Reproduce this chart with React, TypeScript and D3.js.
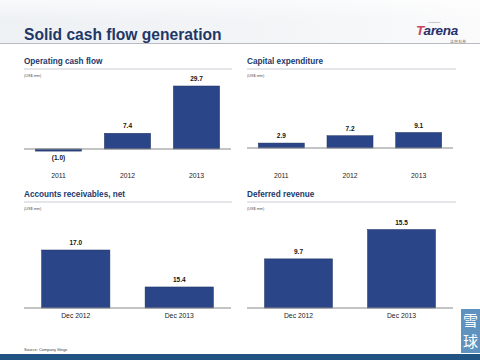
import React from "react";
import * as d3 from "d3";

const ocfCategories = ["2011", "2012", "2013"];
const ocfValues = [-1.0, 7.4, 29.7];
const ocfLabels = ["(1.0)", "7.4", "29.7"];

const capexCategories = ["2011", "2012", "2013"];
const capexValues = [2.9, 7.2, 9.1];
const capexLabels = ["2.9", "7.2", "9.1"];

const arCategories = ["Dec 2012", "Dec 2013"];
const arValues = [17.0, 15.4];
const arLabels = ["17.0", "15.4"];

const drCategories = ["Dec 2012", "Dec 2013"];
const drValues = [9.7, 15.5];
const drLabels = ["9.7", "15.5"];

const FONT = "'Liberation Sans', Arial, sans-serif";
const BAR = "#2b4688";
const NAVY = "#23386a";

type PanelProps = {
  title: string;
  x0: number;
  x1: number;
  titleY: number;
  catY: number;
  cats: string[];
  vals: number[];
  labels: string[];
  domain: [number, number];
  range: [number, number];
  padding: number;
  lineEnd: number;
};

function Panel(p: PanelProps) {
  const xs = d3.scaleBand<string>().domain(p.cats).range([p.x0, p.x1]).paddingInner(p.padding).paddingOuter(p.padding / 2);
  const ys = d3.scaleLinear().domain(p.domain).range(p.range);
  const base = Math.max(p.domain[0], 0);
  const y0 = ys(base);
  return (
    <g>
      <text x={p.x0} y={p.titleY} fontSize={8.2} fontWeight="bold" fill={NAVY} fontFamily={FONT}>{p.title}</text>
      <line x1={p.x0} x2={p.lineEnd} y1={p.titleY + 5} y2={p.titleY + 5} stroke="#c8ccd4" strokeWidth={1} />
      <text x={p.x0} y={p.titleY + 13} fontSize={3.8} fill="#555" fontFamily={FONT}>(US$ mm)</text>
      {p.cats.map((c, i) => {
        const v = p.vals[i];
        const yv = ys(v);
        const top = Math.min(yv, y0);
        const h = Math.abs(yv - y0);
        const cx = (xs(c) as number) + xs.bandwidth() / 2;
        const labelY = v >= 0 ? top - 5 : top + h + 9;
        return (
          <g key={c}>
            <rect x={xs(c)} y={top} width={xs.bandwidth()} height={h} fill={BAR} stroke="#1c2f5e" strokeWidth={0.5} />
            <text x={cx} y={labelY} fontSize={6.5} fontWeight="bold" textAnchor="middle" fill="#111" fontFamily={FONT}>{p.labels[i]}</text>
            <text x={cx} y={p.catY} fontSize={6.8} textAnchor="middle" fill="#222" fontFamily={FONT}>{c}</text>
          </g>
        );
      })}
      <line x1={p.x0} x2={p.x1} y1={y0} y2={y0} stroke="#8a8a8a" strokeWidth={1.2} />
    </g>
  );
}

export default function App() {
  return (
    <svg width={480} height={360} style={{ position: "absolute", left: 0, top: 0 }}>
      <defs>
        <linearGradient id="hdr" x1="0" x2="1" y1="0" y2="0">
          <stop offset="0" stopColor="#eef1f4" />
          <stop offset="0.6" stopColor="#f3f5f7" />
          <stop offset="1" stopColor="#fbfbfc" />
        </linearGradient>
        <linearGradient id="hdrv" x1="0" x2="0" y1="0" y2="1">
          <stop offset="0" stopColor="#ffffff" stopOpacity="0.6" />
          <stop offset="1" stopColor="#ffffff" stopOpacity="0" />
        </linearGradient>
      </defs>
      <rect x={0} y={0} width={480} height={360} fill="#ffffff" />
      <rect x={0} y={0} width={480} height={43} fill="url(#hdr)" />
      <rect x={0} y={0} width={480} height={20} fill="url(#hdrv)" />
      <line x1={0} x2={480} y1={43.5} y2={43.5} stroke="#b8bcc2" strokeWidth={1} />
      <text x={24} y={40} fontSize={15.6} fontWeight="bold" fill="#1f3766" fontFamily={FONT}>Solid cash flow generation</text>

      <text x={428} y={23} fontSize={2.5} fill="#777" fontFamily={FONT}>Technology</text>
      <text x={416} y={35} fontSize={13.5} fontWeight="bold" fill="#27306a" fontFamily={FONT} fontStyle="italic" letterSpacing={-0.3}>
        <tspan fill="#c8475e">T</tspan>arena
      </text>
      <text x={466} y={43} fontSize={3.4} textAnchor="end" fill="#555" fontFamily="'Noto Sans CJK SC', sans-serif">达 内 科 技</text>

      <Panel title="Operating cash flow" x0={24} x1={231} lineEnd={232} titleY={64} catY={178}
        cats={ocfCategories} vals={ocfValues} labels={ocfLabels}
        domain={[-1, 29.7]} range={[151.1, 86]} padding={0.33} />
      <Panel title="Capital expenditure" x0={247} x1={453} lineEnd={456} titleY={64} catY={178}
        cats={capexCategories} vals={capexValues} labels={capexLabels}
        domain={[0, 9.1]} range={[148, 132.5]} padding={0.33} />
      <Panel title="Accounts receivables, net" x0={24} x1={231} lineEnd={232} titleY={197} catY={318}
        cats={arCategories} vals={arValues} labels={arLabels}
        domain={[14.49, 17.0]} range={[308, 250]} padding={0.34} />
      <Panel title="Deferred revenue" x0={247} x1={453} lineEnd={456} titleY={197} catY={318}
        cats={drCategories} vals={drValues} labels={drLabels}
        domain={[0, 15.5]} range={[308, 229.5]} padding={0.34} />

      <text x={24} y={351} fontSize={4} fill="#444" fontFamily={FONT}>Source:  Company filings</text>
      <rect x={0} y={354} width={480} height={6} fill="#215383" />

      <rect x={461} y={309} width={19} height={44} fill="#4f86b8" opacity={0.9} />
      <text x={470.5} y={326} fontSize={15} textAnchor="middle" fill="#ffffff" fontFamily="'Noto Sans CJK SC', sans-serif">雪</text>
      <text x={470.5} y={347} fontSize={15} textAnchor="middle" fill="#ffffff" fontFamily="'Noto Sans CJK SC', sans-serif">球</text>
    </svg>
  );
}
